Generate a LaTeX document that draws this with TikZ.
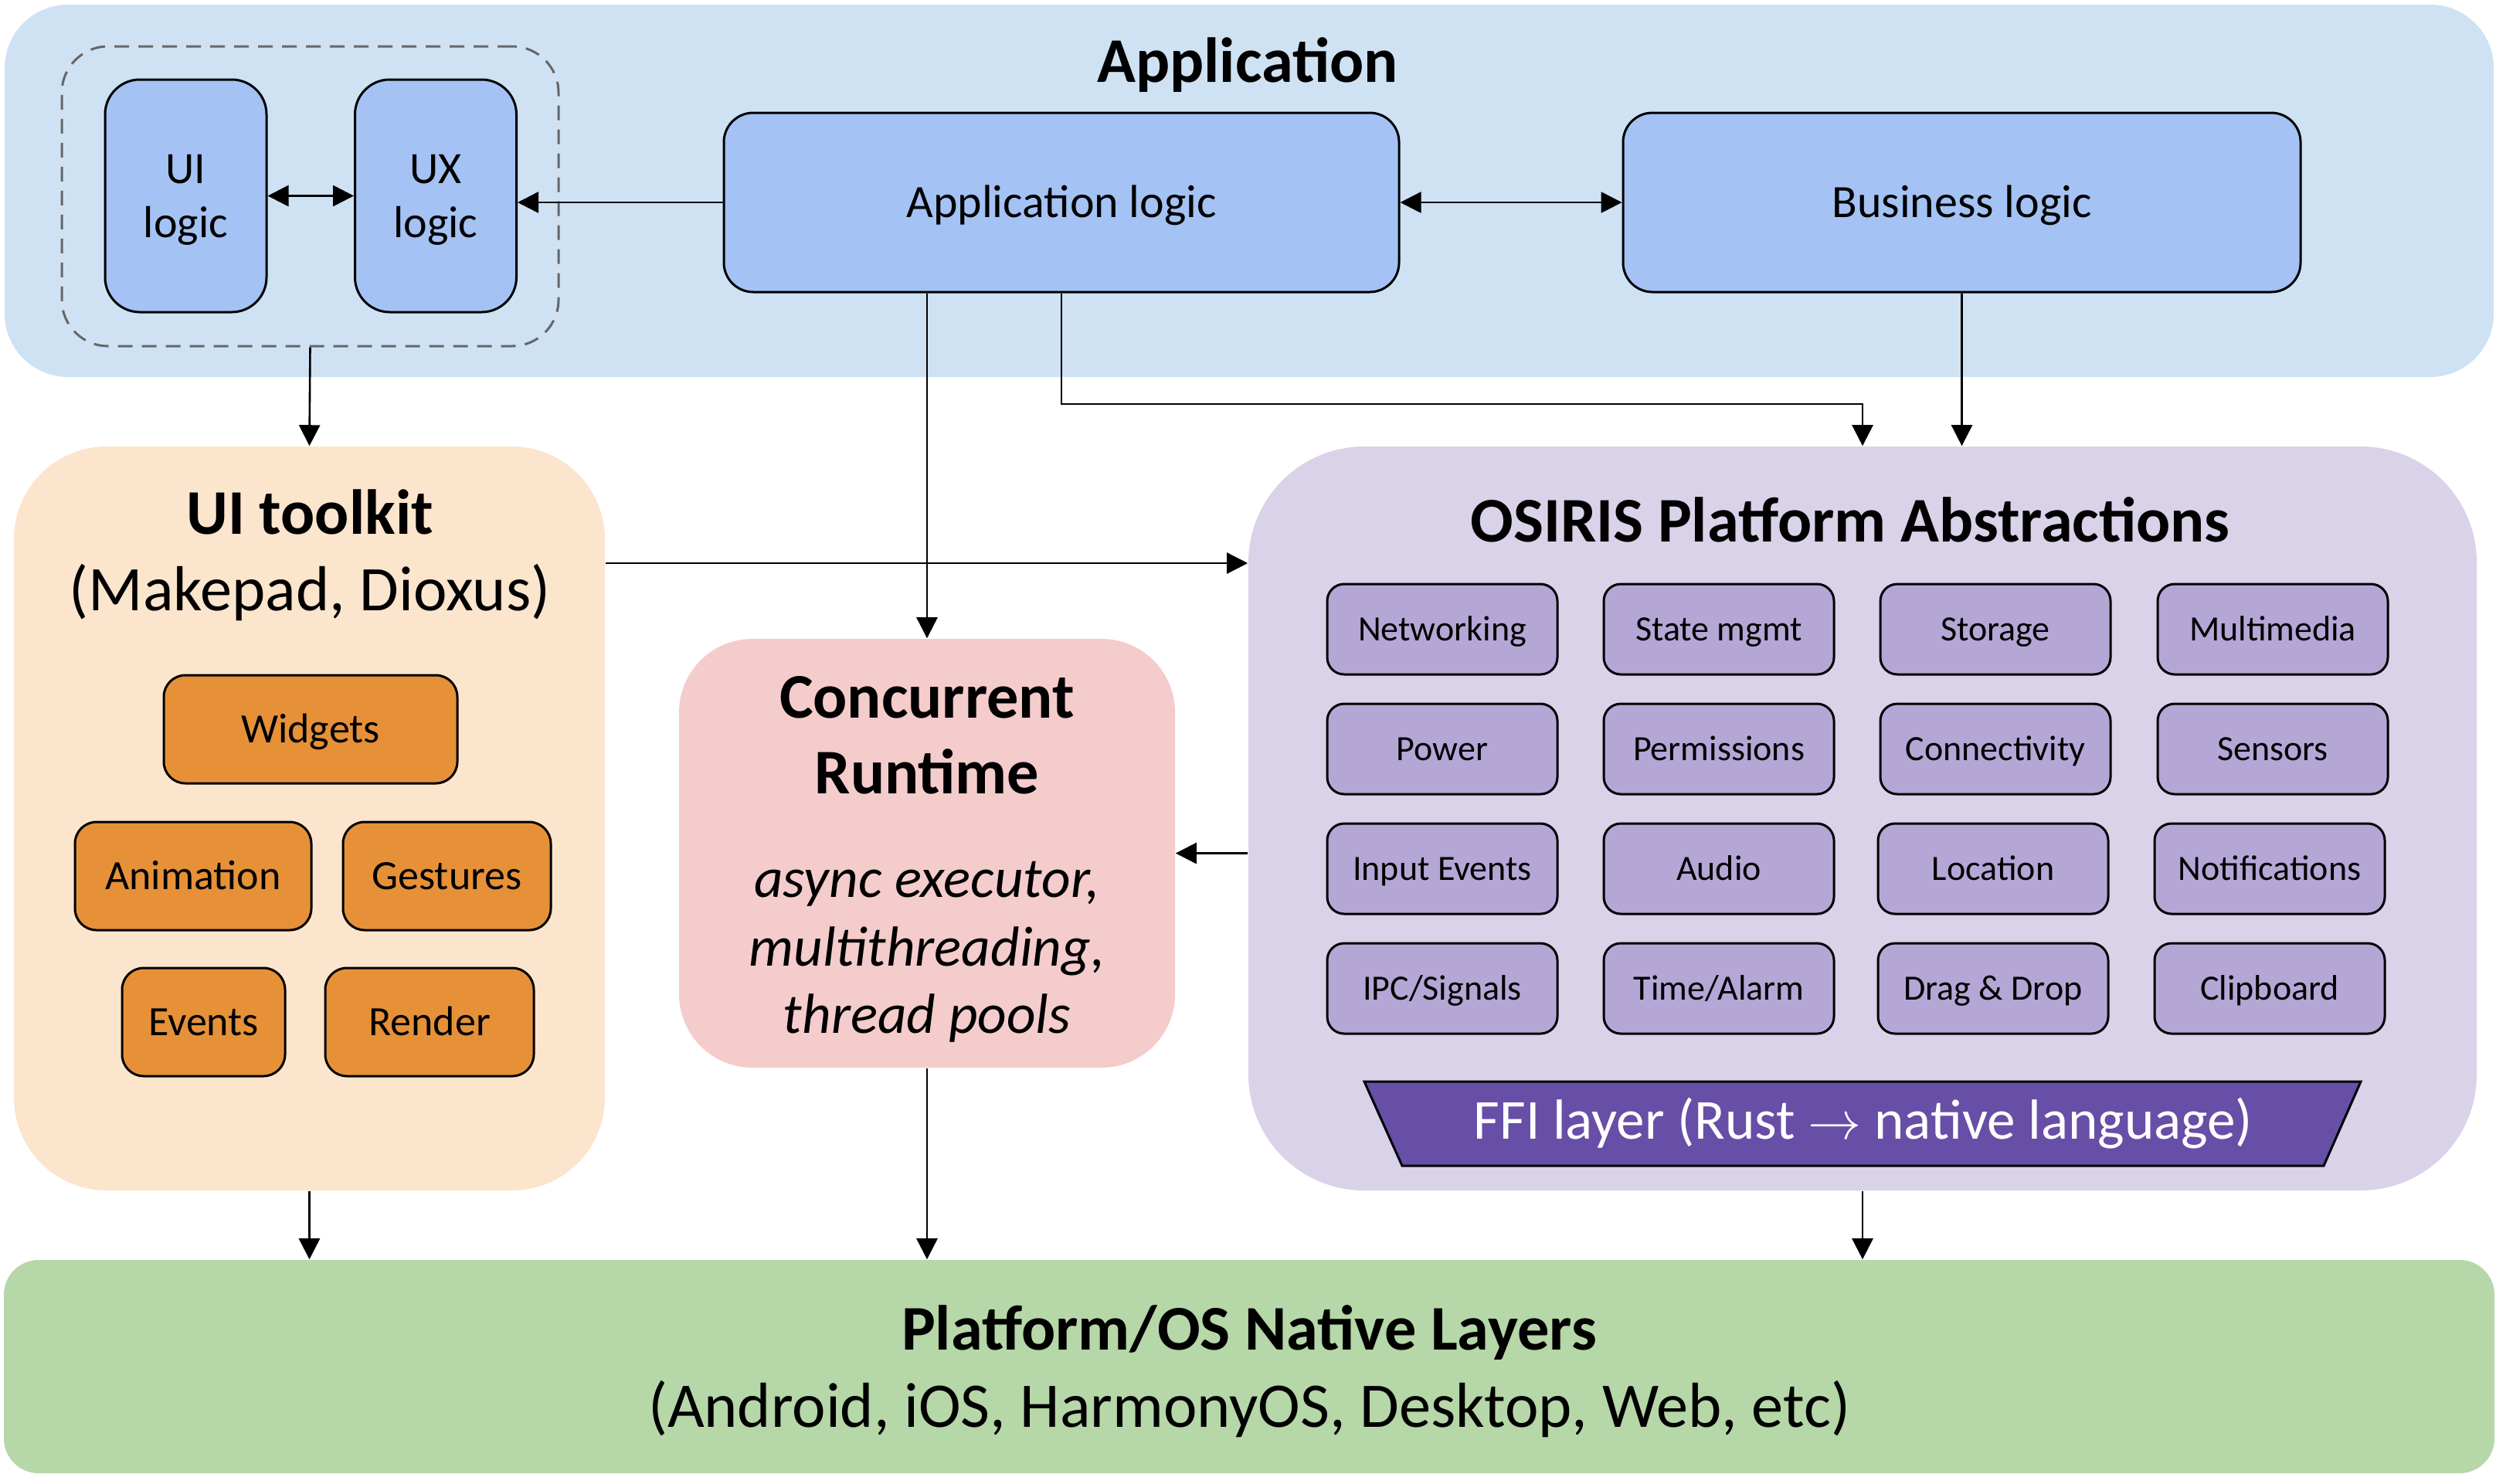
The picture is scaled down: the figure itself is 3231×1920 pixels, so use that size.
\documentclass[tikz,border=0pt]{standalone}
\usepackage{fontspec}
\setmainfont{Carlito}
\usetikzlibrary{arrows.meta}
\definecolor{appbgc}{HTML}{CFE2F3}
\definecolor{logicc}{HTML}{A4C2F4}
\definecolor{tkbgc}{HTML}{FCE5CD}
\definecolor{orngc}{HTML}{E69138}
\definecolor{concc}{HTML}{F4CCCC}
\definecolor{osbgc}{HTML}{D9D2E9}
\definecolor{cellc}{HTML}{B4A7D6}
\definecolor{ffic}{HTML}{674EA7}
\definecolor{platc}{HTML}{B6D7A8}
\definecolor{dashc}{HTML}{666666}
\begin{document}
\begin{tikzpicture}[x=0.25pt,y=-0.25pt,
  tipA/.tip={Triangle[length=6.75pt,width=6.75pt]},
  conn/.style={line width=0.65pt, -tipA},
  biconn/.style={line width=0.65pt, tipA-tipA},
  bgbox/.style={rectangle, draw=none, inner sep=0pt},
  titletext/.style={font=\fontsize{20.6}{24}\selectfont\bfseries, anchor=base, inner sep=0pt},
  subtext/.style={font=\fontsize{20.6}{24}\selectfont, anchor=base, inner sep=0pt},
  itext/.style={font=\fontsize{18.3}{21}\selectfont\itshape, anchor=base, inner sep=0pt},
  smalltext/.style={font=\fontsize{14.5}{17}\selectfont, anchor=base, inner sep=0pt},
  logicbox/.style={rectangle, draw=black, line width=0.75pt, fill=logicc, inner sep=0pt},
  biglogic/.style={logicbox, minimum width=218.5pt, minimum height=58pt, rounded corners=9.5pt,
     font=\fontsize{15}{18}\selectfont, text height=9.66pt, text depth=0pt},
  orangebox/.style={rectangle, draw=black, line width=0.75pt, fill=orngc, rounded corners=7pt,
     minimum height=35pt, inner sep=0pt, font=\fontsize{13.5}{16}\selectfont, text height=8.69pt, text depth=0pt},
  cellbox/.style={rectangle, draw=black, line width=0.75pt, fill=cellc, rounded corners=5.5pt,
     minimum width=74.5pt, minimum height=29.25pt, inner sep=0pt,
     font=\fontsize{11.5}{14}\selectfont, text height=7.41pt, text depth=0pt}
]
\useasboundingbox (0,0) rectangle (3231,1920);

% ---------- backgrounds ----------
\node[bgbox, fill=appbgc, rounded corners=20.5pt, minimum width=805.5pt, minimum height=120.5pt] (appbg) at (1617,247) {};
\node[bgbox, fill=tkbgc, rounded corners=30pt, minimum width=191.25pt, minimum height=240.75pt] (uitk) at (400.5,1059.5) {};
\node[bgbox, fill=concc, rounded corners=23.75pt, minimum width=160.5pt, minimum height=138.75pt] (conc) at (1200,1104.5) {};
\node[bgbox, fill=osbgc, rounded corners=37.5pt, minimum width=397.5pt, minimum height=240.75pt] (osiris) at (2411,1059.5) {};
\node[bgbox, fill=platc, rounded corners=11.25pt, minimum width=806pt, minimum height=69pt] (plat) at (1617,1769) {};

% ---------- Application ----------
\node[titletext] (apptitle) at (1615,106) {Application};
\node[rectangle, draw=dashc, dash pattern=on 4.75pt off 3pt, line width=0.75pt, rounded corners=15pt,
      minimum width=160.75pt, minimum height=97pt, inner sep=0pt] (grp) at (401.5,254) {};
\node[logicbox, minimum width=52.25pt, minimum height=75.25pt, rounded corners=11.25pt] (uil) at (240.5,253.5) {};
\node[logicbox, minimum width=52.25pt, minimum height=75.25pt, rounded corners=11.25pt] (uxl) at (564,253.5) {};
\node[smalltext] (uilt1) at (240.5,237) {UI};
\node[smalltext] (uilt2) at (240.5,307) {logic};
\node[smalltext] (uxlt1) at (564,237) {UX};
\node[smalltext] (uxlt2) at (564,307) {logic};
\node[biglogic] (applogic) at (1374,262) {Application logic};
\node[biglogic, minimum width=219.25pt] (bizlogic) at (2539.5,262) {Business logic};

% ---------- UI toolkit ----------
\node[titletext] (tktitle) at (401,691) {UI toolkit};
\node[subtext] (tksub) at (401,790) {(Makepad, Dioxus)};
\node[orangebox, minimum width=95pt] (widgets) at (402,944) {Widgets};
\node[orangebox, minimum width=76.5pt] (anim) at (250,1134) {Animation};
\node[orangebox, minimum width=67.25pt] (gest) at (578.5,1134) {Gestures};
\node[orangebox, minimum width=52.75pt] (events) at (263.5,1323) {Events};
\node[orangebox, minimum width=67.5pt] (render) at (556,1323) {Render};

% ---------- Concurrent Runtime ----------
\node[titletext] (conct1) at (1200,929) {Concurrent};
\node[titletext] (conct2) at (1200,1027) {Runtime};
\node[itext] (conci1) at (1200,1161) {async executor,};
\node[itext] (conci2) at (1200,1250) {multithreading,};
\node[itext] (conci3) at (1200,1337) {thread pools};

% ---------- OSIRIS ----------
\node[titletext] (ostitle) at (2395,701) {OSIRIS Platform Abstractions};
\node[cellbox] (c11) at (1867,814.5) {Networking};
\node[cellbox] (c12) at (2225,814.5) {State mgmt};
\node[cellbox] (c13) at (2583,814.5) {Storage};
\node[cellbox] (c14) at (2942,814.5) {Multimedia};
\node[cellbox] (c21) at (1867,969.5) {Power};
\node[cellbox] (c22) at (2225,969.5) {Permissions};
\node[cellbox] (c23) at (2583,969.5) {Connectivity};
\node[cellbox] (c24) at (2942,969.5) {Sensors};
\node[cellbox] (c31) at (1867,1124.5) {Input Events};
\node[cellbox] (c32) at (2225,1124.5) {Audio};
\node[cellbox] (c33) at (2580,1124.5) {Location};
\node[cellbox] (c34) at (2938,1124.5) {Notifications};
\node[cellbox] (c41) at (1867,1279.5) {IPC/Signals};
\node[cellbox] (c42) at (2225,1279.5) {Time/Alarm};
\node[cellbox] (c43) at (2580,1279.5) {Drag \& Drop};
\node[cellbox] (c44) at (2938,1279.5) {Clipboard};
\draw[fill=ffic, line width=0.75pt] (1766,1400) -- (3056,1400) -- (3008,1509) -- (1815,1509) -- cycle;
\node[font=\fontsize{18.3}{22}\selectfont, text=white, anchor=base, inner sep=0pt] (ffi) at (2412,1474)
  {FFI layer (Rust $\rightarrow$ native language)};

% ---------- Platform ----------
\node[titletext] (plt1) at (1617,1747) {Platform/OS Native Layers};
\node[subtext] (plt2) at (1617,1847) {(Android, iOS, HarmonyOS, Desktop, Web, etc)};

% ---------- connectors ----------
\draw[biconn] (uil.east) -- (uxl.west);
\draw[conn] (applogic.west) -- (applogic.west -| uxl.east);
\draw[biconn] (applogic.east) -- (bizlogic.west);
\draw[conn] (applogic.south -| conc.north) -- (conc.north);
\coordinate (j) at (2411,523);
\draw[conn] (applogic.south) |- (j) -- (j |- osiris.north);
\draw[conn] (bizlogic.south) -- (bizlogic.south |- osiris.north);
\draw[conn] (grp.south) -- (uitk.north);
\coordinate (k) at (0,729);
\draw[conn] (uitk.east |- k) -- (osiris.west |- k);
\draw[conn] (conc.east -| osiris.west) -- (conc.east);
\draw[conn] (uitk.south) -- (uitk.south |- plat.north);
\draw[conn] (conc.south) -- (conc.south |- plat.north);
\draw[conn] (osiris.south) -- (osiris.south |- plat.north);
\end{tikzpicture}
\end{document}
